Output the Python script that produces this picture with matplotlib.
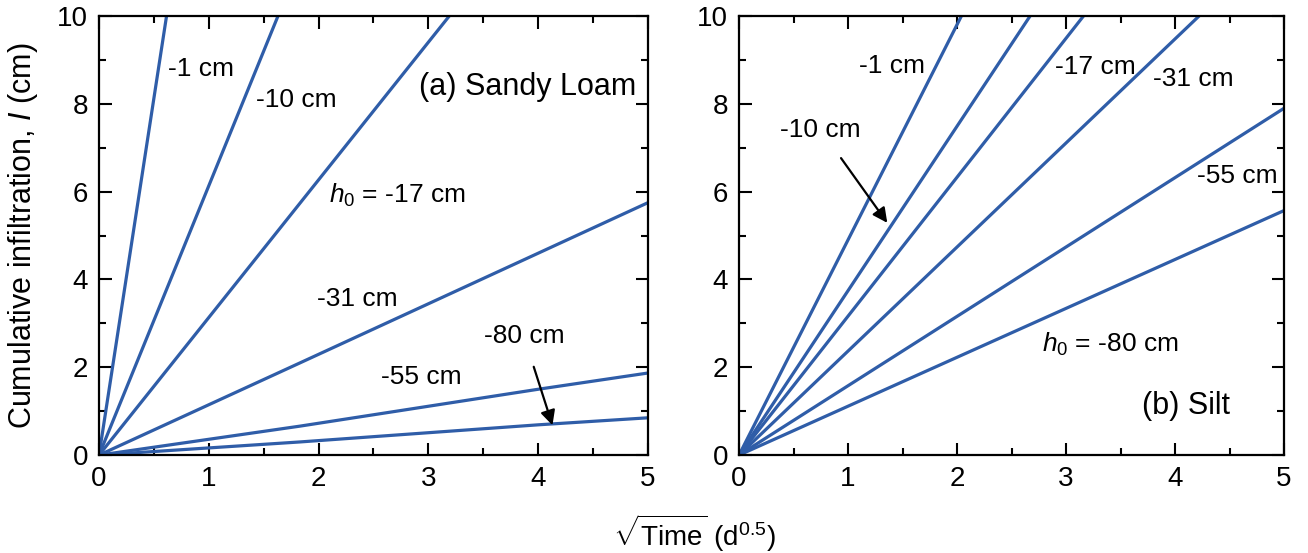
import matplotlib
matplotlib.use("Agg")
import matplotlib.pyplot as plt
from matplotlib.ticker import MultipleLocator

plt.rcParams['font.family'] = ['Liberation Sans', 'DejaVu Sans']
plt.rcParams['mathtext.fontset'] = 'custom'
plt.rcParams['mathtext.rm'] = 'Liberation Sans'
plt.rcParams['mathtext.it'] = 'Liberation Sans:italic'

LINE_COLOR = '#2f5da8'

# (a) Sandy Loam: sqrt(time) vs cumulative infiltration
sl_heads = ['-1', '-10', '-17', '-31', '-55', '-80']
sl_x = [
    [0, 0.615],
    [0, 1.63],
    [0, 3.19],
    [0, 1.83, 5.0],
    [0, 1.83, 4.0, 5.0],
    [0, 1.83, 4.0, 5.0],
]
sl_y = [
    [0, 10.0],
    [0, 10.0],
    [0, 10.0],
    [0, 2.10, 5.75],
    [0, 0.66, 1.50, 1.87],
    [0, 0.30, 0.69, 0.85],
]

# (b) Silt
silt_heads = ['-1', '-10', '-17', '-31', '-55', '-80']
silt_x = [
    [0, 2.04],
    [0, 2.67],
    [0, 3.16],
    [0, 4.22],
    [0, 5.0],
    [0, 5.0],
]
silt_y = [
    [0, 10.0],
    [0, 10.0],
    [0, 10.0],
    [0, 10.0],
    [0, 7.90],
    [0, 5.57],
]


def style_axes(ax):
    ax.set_xlim(0, 5)
    ax.set_ylim(0, 10)
    ax.xaxis.set_major_locator(MultipleLocator(1))
    ax.xaxis.set_minor_locator(MultipleLocator(0.5))
    ax.yaxis.set_major_locator(MultipleLocator(2))
    ax.yaxis.set_minor_locator(MultipleLocator(1))
    ax.tick_params(which='both', direction='in', top=True, right=True,
                   width=1.5, labelsize=20, pad=8)
    ax.tick_params(which='major', length=9)
    ax.tick_params(which='minor', length=5)
    for sp in ax.spines.values():
        sp.set_linewidth(1.6)


fig = plt.figure(figsize=(13.08, 5.53), dpi=100)
ax1 = fig.add_axes([0.0757, 0.177, 0.4197, 0.794])
ax2 = fig.add_axes([0.5650, 0.177, 0.4167, 0.794])

for xs, ys in zip(sl_x, sl_y):
    ax1.plot(xs, ys, color=LINE_COLOR, lw=2.3)
for xs, ys in zip(silt_x, silt_y):
    ax2.plot(xs, ys, color=LINE_COLOR, lw=2.3)

style_axes(ax1)
style_axes(ax2)

fs = 19
arrow = dict(arrowstyle='-|>', color='black', lw=1.6,
             mutation_scale=22, shrinkA=12, shrinkB=0)

# labels, panel (a)
ax1.text(0.93, 8.8, '-1 cm', fontsize=fs, ha='center', va='center')
ax1.text(1.80, 8.09, '-10 cm', fontsize=fs, ha='center', va='center')
ax1.text(2.72, 5.92, r'$h_0$ = -17 cm', fontsize=fs, ha='center', va='center')
ax1.text(2.35, 3.55, '-31 cm', fontsize=fs, ha='center', va='center')
ax1.text(2.94, 1.78, '-55 cm', fontsize=fs, ha='center', va='center')
ax1.annotate('-80 cm', xy=(4.13, 0.68), xytext=(3.87, 2.71),
             fontsize=fs, ha='center', va='center', arrowprops=arrow)
ax1.text(3.9, 8.38, '(a) Sandy Loam', fontsize=22, ha='center', va='center')

# labels, panel (b)
ax2.text(1.40, 8.86, '-1 cm', fontsize=fs, ha='center', va='center')
ax2.annotate('-10 cm', xy=(1.36, 5.29), xytext=(0.75, 7.41),
             fontsize=fs, ha='center', va='center', arrowprops=arrow)
ax2.text(3.27, 8.85, '-17 cm', fontsize=fs, ha='center', va='center')
ax2.text(4.17, 8.57, '-31 cm', fontsize=fs, ha='center', va='center')
ax2.text(4.57, 6.36, '-55 cm', fontsize=fs, ha='center', va='center')
ax2.text(3.41, 2.53, r'$h_0$ = -80 cm', fontsize=fs, ha='center', va='center')
ax2.text(4.1, 1.13, '(b) Silt', fontsize=22, ha='center', va='center')

ax1.set_ylabel(r'Cumulative infiltration, $I$ (cm)', fontsize=22, labelpad=12)
fig.text(0.531, 0.035, r'$\sqrt{\mathrm{Time}}$ (d$^{0.5}$)', fontsize=20,
         ha='center', va='center')

fig.savefig('out.png', dpi=100)
